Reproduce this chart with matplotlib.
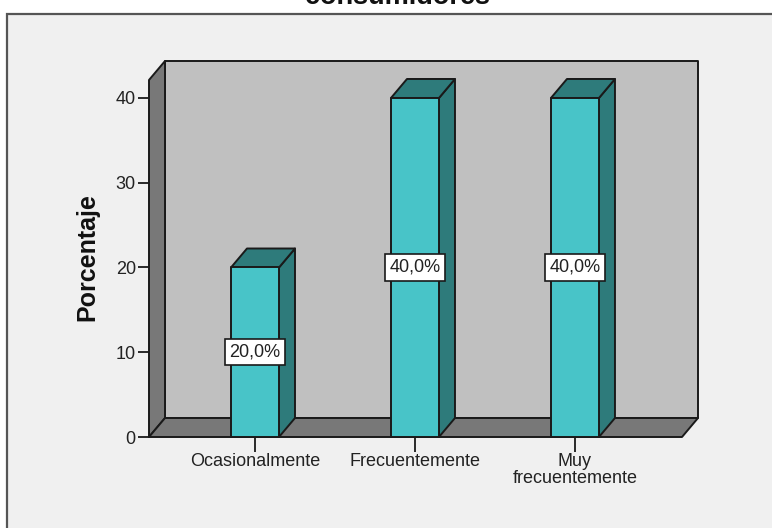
import matplotlib
matplotlib.use("Agg")
import matplotlib.pyplot as plt
from matplotlib.patches import Polygon, Rectangle

categories = ["Ocasionalmente", "Frecuentemente", "Muy\nfrecuentemente"]
values = [20.0, 40.0, 40.0]
yticks = [0, 10, 20, 30, 40]
title = "consumidores"
ylabel = "Porcentaje"

BAR_FRONT = "#48C4C8"
BAR_DARK = "#2E7B7B"
WALL = "#C0C0C0"
FLOOR = "#787878"
PANEL = "#F0F0F0"
EDGE = "#1A1A1A"

W, H = 772, 528
plt.rcParams["font.family"] = ["Liberation Sans", "DejaVu Sans"]

fig = plt.figure(figsize=(W / 100, H / 100), dpi=100, facecolor="white")

# grey panel behind the chart, runs off the right and bottom edges
fig.patches.append(Rectangle((7 / W, -0.01), 1.0, 1 - 14 / H + 0.01, transform=fig.transFigure,
                             facecolor=PANEL, edgecolor="#555555", linewidth=1.6, zorder=-1))

# axes = front plane of the 3D box
ax = fig.add_axes([149 / W, 1 - 437 / H, (682 - 149) / W, (437 - 80) / H])
ax.patch.set_visible(False)
x0, x1 = -0.6625, 2.669
top = 42.12
ax.set_xlim(x0, x1)
ax.set_ylim(0, top)
for s in ax.spines.values():
    s.set_visible(False)

# depth offset in data units
dx, dy = 0.1, 2.24
bw = 0.3


def poly(pts, color):
    ax.add_patch(Polygon(pts, closed=True, facecolor=color, edgecolor=EDGE,
                         linewidth=1.4, joinstyle="round", clip_on=False))


# back wall, left wall, floor
poly([(x0 + dx, dy), (x1 + dx, dy), (x1 + dx, top + dy), (x0 + dx, top + dy)], WALL)
poly([(x0, 0), (x0 + dx, dy), (x0 + dx, top + dy), (x0, top)], FLOOR)
poly([(x0, 0), (x1, 0), (x1 + dx, dy), (x0 + dx, dy)], FLOOR)

# bars
for i, v in enumerate(values):
    l, r = i - bw / 2, i + bw / 2
    poly([(r, 0), (r + dx, dy), (r + dx, v + dy), (r, v)], BAR_DARK)
    poly([(l, v), (r, v), (r + dx, v + dy), (l + dx, v + dy)], BAR_DARK)
    poly([(l, 0), (r, 0), (r, v), (l, v)], BAR_FRONT)
    ax.text(i, v / 2, f"{v:.1f}%".replace(".", ","), ha="center", va="center", fontsize=13,
            color="#222222", zorder=6,
            bbox=dict(boxstyle="square,pad=0.26", facecolor="white", edgecolor=EDGE, linewidth=1.2))

ax.set_yticks(yticks)
ax.set_xticks(range(len(categories)))
ax.set_xticklabels(categories, linespacing=1.0)
ax.tick_params(axis="y", length=8, width=1.3, color=EDGE, labelsize=13, pad=1.5, labelcolor="#222222")
ax.tick_params(axis="x", length=11, width=1.3, color=EDGE, labelsize=13, pad=0.8, labelcolor="#222222")

fig.text(87 / W, 1 - 257 / H, ylabel, rotation=90, ha="center", va="center",
         fontsize=18, fontweight="bold", color="#111111")
# title is cut off by the top edge in the reference
fig.text(397 / W, 1 - 4 / H, title, ha="center", va="baseline",
         fontsize=19.5, fontweight="bold", color="#111111")

fig.savefig("out.png", dpi=100, facecolor="white")
